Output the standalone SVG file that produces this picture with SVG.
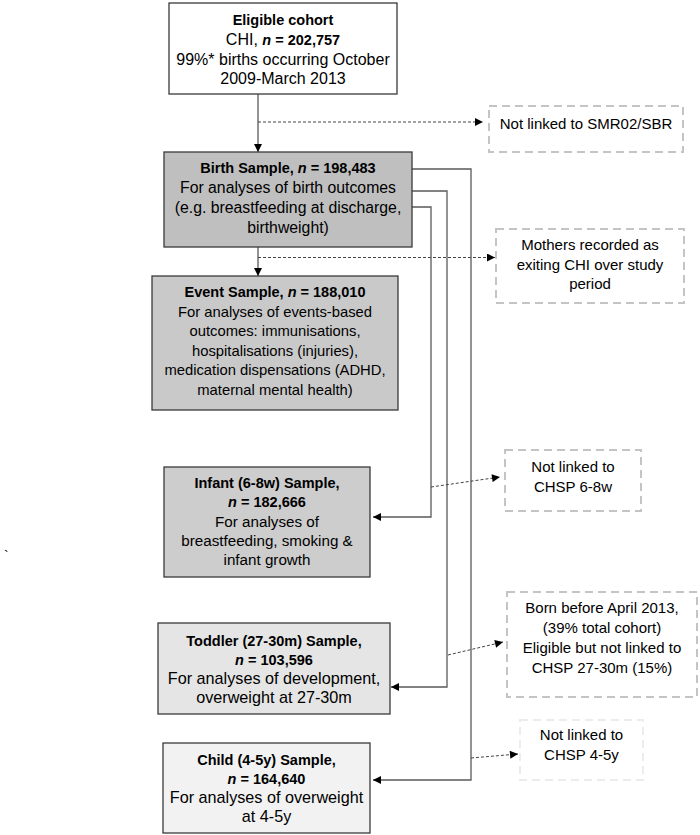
<svg xmlns="http://www.w3.org/2000/svg" width="700" height="835" viewBox="0 0 700 835">
<style>
text{font-family:"Liberation Sans",Arial,sans-serif;font-size:15px;fill:#000;text-anchor:middle}
.b{font-weight:bold;font-size:14.5px}
.i{font-style:italic;font-weight:bold}
.box{stroke:#3a3a3a;stroke-width:1.3}
.dbox{fill:#fff;stroke:#c4c4c4;stroke-width:2;stroke-dasharray:8 5}
.conn{fill:none;stroke:#5a5a5a;stroke-width:1.3}
.dash{fill:none;stroke:#444;stroke-width:1;stroke-dasharray:3 2}
#eligible text{font-size:16px}
#birth text{font-size:15.8px}
#event text{font-size:14.8px}
#infant text{font-size:15.2px}
#toddler text{font-size:16.2px}
#child text{font-size:16.2px}
#eligible .b,#birth .b,#event .b,#infant .b,#toddler .b,#child .b{font-size:14.5px}
</style>
<defs>
<marker id="ah" viewBox="0 0 10 10" refX="10" refY="5" markerUnits="userSpaceOnUse" markerWidth="9" markerHeight="8" orient="auto">
<path d="M0,0 L10,5 L0,10 z" fill="#000"/>
</marker>
</defs>
<rect width="700" height="835" fill="#fff"/>

<g id="connectors">
<line class="conn" x1="258" y1="94" x2="258" y2="152" marker-end="url(#ah)"/>
<line class="dash" x1="258" y1="122" x2="483" y2="122" marker-end="url(#ah)"/>
<line class="conn" x1="258" y1="247" x2="258" y2="276" marker-end="url(#ah)"/>
<line class="dash" x1="258" y1="257.5" x2="495" y2="257.5" marker-end="url(#ah)"/>
<polyline class="conn" points="412,169 471,169 471,780 373,780" marker-end="url(#ah)"/>
<polyline class="conn" points="412,191 447,191 447,687 391,687" marker-end="url(#ah)"/>
<polyline class="conn" points="412,207 431,207 431,517 373,517" marker-end="url(#ah)"/>
<line class="dash" x1="431" y1="487" x2="500" y2="477" marker-end="url(#ah)"/>
<line class="dash" x1="448" y1="655" x2="503" y2="642" marker-end="url(#ah)"/>
<line class="dash" x1="471" y1="758" x2="518" y2="754" marker-end="url(#ah)"/>
</g>

<g id="eligible">
<rect class="box" x="169" y="3" width="228" height="91" fill="#fff"/>
<text x="283" y="25" class="b">Eligible cohort</text>
<text x="283" y="45">CHI, <tspan class="i" style="font-size:14.5px">n</tspan><tspan class="b"> = 202,757</tspan></text>
<text x="283" y="64.5">99%* births occurring October</text>
<text x="283" y="84">2009-March 2013</text>
</g>

<g id="birth">
<rect class="box" x="164" y="152" width="248" height="95" fill="#bfbfbf"/>
<text x="288" y="173" class="b">Birth Sample, <tspan class="i">n</tspan> = 198,483</text>
<text x="288" y="193">For analyses of birth outcomes</text>
<text x="288" y="213">(e.g. breastfeeding at discharge,</text>
<text x="288" y="233">birthweight)</text>
</g>

<g id="event">
<rect class="box" x="152" y="276" width="246" height="134" fill="#c9c9c9"/>
<text x="275" y="297" class="b">Event Sample, <tspan class="i">n</tspan> = 188,010</text>
<text x="275" y="316.5">For analyses of events-based</text>
<text x="275" y="336">outcomes: immunisations,</text>
<text x="275" y="355.5">hospitalisations (injuries),</text>
<text x="275" y="375">medication dispensations (ADHD,</text>
<text x="275" y="394.5">maternal mental health)</text>
</g>

<g id="infant">
<rect class="box" x="164" y="467" width="206" height="110" fill="#cdcdcd"/>
<text x="267" y="488" class="b">Infant (6-8w) Sample,</text>
<text x="267" y="507" class="b"><tspan class="i">n</tspan> = 182,666</text>
<text x="267" y="527">For analyses of</text>
<text x="267" y="546">breastfeeding, smoking &amp;</text>
<text x="267" y="565">infant growth</text>
</g>

<g id="toddler">
<rect class="box" x="158" y="623" width="232" height="91" fill="#e5e5e5"/>
<text x="274" y="646" class="b">Toddler (27-30m) Sample,</text>
<text x="274" y="665" class="b"><tspan class="i">n</tspan> = 103,596</text>
<text x="274" y="684">For analyses of development,</text>
<text x="274" y="703">overweight at 27-30m</text>
</g>

<g id="child">
<rect class="box" x="163" y="743" width="207" height="90" fill="#f2f2f2"/>
<text x="266.5" y="765" class="b">Child (4-5y) Sample,</text>
<text x="266.5" y="783.5" class="b"><tspan class="i">n</tspan> = 164,640</text>
<text x="266.5" y="803">For analyses of overweight</text>
<text x="266.5" y="822">at 4-5y</text>
</g>

<g id="smr">
<rect class="dbox" x="489" y="106" width="194" height="46"/>
<text x="586" y="128.5">Not linked to SMR02/SBR</text>
</g>

<g id="mothers">
<rect class="dbox" x="496" y="229" width="188" height="74"/>
<text x="590" y="250">Mothers recorded as</text>
<text x="590" y="270">exiting CHI over study</text>
<text x="590" y="289">period</text>
</g>

<g id="chsp68">
<rect class="dbox" x="505" y="450" width="136" height="61"/>
<text x="573" y="472">Not linked to</text>
<text x="573" y="492">CHSP 6-8w</text>
</g>

<g id="born">
<rect class="dbox" x="507" y="592" width="190" height="105"/>
<text x="602" y="613">Born before April 2013,</text>
<text x="602" y="633">(39% total cohort)</text>
<text x="602" y="653">Eligible but not linked to</text>
<text x="602" y="673">CHSP 27-30m (15%)</text>
</g>

<g id="chsp45">
<rect class="dbox" x="520" y="720" width="123" height="60" style="stroke:#ececec"/>
<text x="581.5" y="740">Not linked to</text>
<text x="581.5" y="759.5">CHSP 4-5y</text>
</g>

<text x="4" y="561" style="text-anchor:start;font-size:14px">`</text>
</svg>
